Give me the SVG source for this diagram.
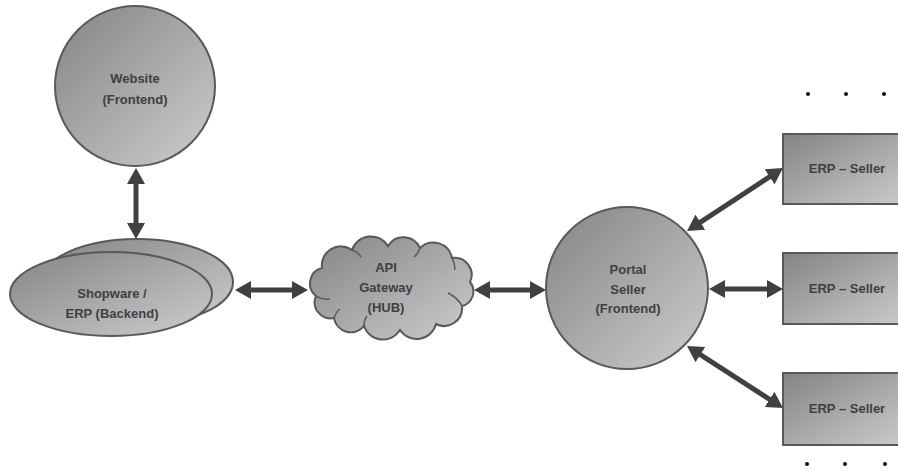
<svg xmlns="http://www.w3.org/2000/svg" width="898" height="474" viewBox="0 0 898 474">
<style>
.shape{fill:url(#g);stroke:#595959;stroke-width:2}
.lbl{font-family:"Liberation Sans",Arial,sans-serif;font-weight:bold;font-size:13px;fill:#404040;text-anchor:middle}
.conn{stroke:#404040;stroke-width:5;fill:none;marker-start:url(#ah);marker-end:url(#ah)}
.dot{fill:#111}
.inner{fill:none;stroke:#595959;stroke-width:1.5}
</style>
<defs>
<linearGradient id="g" x1="0" y1="0" x2="1" y2="1">
<stop offset="0" stop-color="#848484"/>
<stop offset="1" stop-color="#cdcdcd"/>
</linearGradient>
<marker id="ah" viewBox="0 0 16 18" refX="8" refY="9" markerWidth="16" markerHeight="18" markerUnits="userSpaceOnUse" orient="auto-start-reverse">
<path d="M0,0 L16,9 L0,18 z" fill="#404040"/>
</marker>
</defs>
<rect width="898" height="474" fill="#ffffff"/>
<g id="connectors">
<line class="conn" x1="136" y1="176" x2="136" y2="231"/>
<line class="conn" x1="243" y1="290" x2="300" y2="290"/>
<line class="conn" x1="482" y1="290" x2="538" y2="290"/>
<line class="conn" x1="717" y1="289" x2="775" y2="289"/>
<line class="conn" x1="693.7" y1="226.6" x2="776.3" y2="172.4"/>
<line class="conn" x1="693.7" y1="350.3" x2="776.3" y2="403.7"/>
</g>
<g id="website">
<circle class="shape" cx="135" cy="86" r="80"/>
<text class="lbl" x="135" y="83">Website</text>
<text class="lbl" x="135" y="104">(Frontend)</text>
</g>
<g id="shopware">
<ellipse class="shape" cx="137" cy="282" rx="96" ry="43"/>
<ellipse class="shape" cx="111" cy="294" rx="101" ry="42"/>
<text class="lbl" x="112" y="298">Shopware /</text>
<text class="lbl" x="112" y="318">ERP (Backend)</text>
</g>
<g id="gateway">
<path class="shape" d="M316,296 A16,16 0 0 1 322,268 A19,19 0 0 1 352,250 A20,20 0 0 1 388,246 A18,18 0 0 1 420,248 A19,19 0 0 1 452,258 A17,17 0 0 1 470,282 A15,15 0 0 1 462,306 A18,18 0 0 1 436,324 A20,20 0 0 1 400,330 A20,20 0 0 1 364,326 A17,17 0 0 1 334,318 A16,16 0 0 1 316,296 Z"/>
<path class="inner" d="M316,296 Q322,300 330,299"/>
<path class="inner" d="M334,318 Q336,312 340,309"/>
<path class="inner" d="M364,326 Q364,320 367,316"/>
<path class="inner" d="M452,258 Q455,264 455,270"/>
<path class="inner" d="M462,306 Q458,298 448,293"/>
<path class="inner" d="M420,248 Q418,254 414,257"/>
<path class="inner" d="M352,250 Q358,252 361,257"/>
<text class="lbl" x="386" y="272">API</text>
<text class="lbl" x="386" y="292">Gateway</text>
<text class="lbl" x="386" y="312">(HUB)</text>
</g>
<g id="portal">
<circle class="shape" cx="627" cy="288" r="81"/>
<text class="lbl" x="628" y="274">Portal</text>
<text class="lbl" x="628" y="294">Seller</text>
<text class="lbl" x="628" y="313">(Frontend)</text>
</g>
<g id="erp1">
<rect class="shape" x="783" y="134" width="130" height="70"/>
<text class="lbl" x="847" y="173">ERP – Seller</text>
</g>
<g id="erp2">
<rect class="shape" x="783" y="253" width="130" height="71"/>
<text class="lbl" x="847" y="293">ERP – Seller</text>
</g>
<g id="erp3">
<rect class="shape" x="783" y="373" width="130" height="72"/>
<text class="lbl" x="847" y="413">ERP – Seller</text>
</g>
<g id="dots-top">
<circle class="dot" cx="808" cy="94" r="2"/>
<circle class="dot" cx="846" cy="94" r="2"/>
<circle class="dot" cx="884" cy="94" r="2"/>
</g>
<g id="dots-bottom">
<circle class="dot" cx="807" cy="464" r="2"/>
<circle class="dot" cx="845" cy="464" r="2"/>
<circle class="dot" cx="885" cy="464" r="2"/>
</g>
</svg>
